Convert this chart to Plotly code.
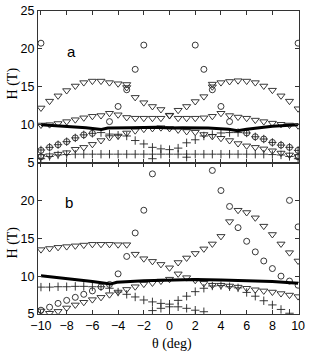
import plotly.graph_objects as go

# ---------------- data ----------------
theta = [-10, -9.33, -8.67, -8, -7.33, -6.67, -6, -5.33, -4.67, -4, -3.33,
         -2.67, -2, -1.33, -0.67, 0, 0.67, 1.33, 2, 2.67, 3.33,
         4, 4.67, 5.33, 6, 6.67, 7.33, 8, 8.67, 9.33, 10]
N = None

# panel a
a_tri_upper = [12.2, 13.1, 13.8, 14.5, 15.1, 15.55, 15.75, 15.75, 15.55, 15.4, 15.3,
               13.6, 12.9, 12.4, 12.0, 11.25, 11.9, 12.4, 13.05, 13.7, 15.35,
               15.55, 15.7, 15.8, 15.75, 15.55, 15.1, 14.55, 13.8, 13.1, 12.1]
a_tri_extra = [N, N, N, N, N, N, N, N, N, N, 14.9,
               N, N, N, N, N, N, N, N, N, 15.0,
               N, N, N, N, N, N, N, N, N, N]
a_tri_mid = [9.95, 10.0, 10.15, 10.4, 10.65, 10.9, 11.1, 11.2, 11.5, 11.3, 10.95,
             10.85, 10.85, 10.85, 10.85, 11.2, 10.85, 10.85, 10.85, 10.9, 11.1,
             11.5, 11.2, 11.0, 10.85, 10.6, 10.4, 10.2, 10.05, 9.95, 9.85]
a_tri_low = [5.8, 5.9, 6.1, 6.3, 6.75, 7.0, 7.4, 7.9, 8.3, 8.5, 8.9,
             9.2, 9.4, 9.5, 9.6, 9.5, 9.3, 9.1, 9.0, 8.7, 8.45,
             8.2, 7.9, 7.5, 7.2, 7.0, 6.8, 6.55, 6.25, 6.0, 5.8]
a_circ_hi = [20.75, N, N, N, N, N, N, N, 10.4, 12.4, 14.6,
             17.3, 20.5, N, N, N, N, N, 20.5, 17.3, 14.6,
             12.4, 10.4, N, N, N, N, N, N, N, 20.75]
a_circ_lo = [6.6, 7.0, 7.35, 7.75, 8.25, 8.65, 8.85, N, N, N, N,
             N, N, N, N, N, N, N, N, N, N,
             N, N, N, 8.9, 8.4, 8.1, 7.65, 7.3, 7.0, 6.6]
a_circ_edge = [5.75, N, N, N, N, N, N, N, N, N, N,
               N, N, N, N, N, N, N, N, N, N,
               N, N, N, N, N, N, N, N, N, 5.75]
a_plus_row = [5.5, 5.8, 6.0, 6.05, 6.1, 6.1, 6.1, 6.1, 6.1, 6.1, 6.1,
              6.1, 6.1, 6.1, 6.1, 6.1, 6.1, 6.1, 6.1, 6.1, 6.1,
              6.1, 6.1, 6.1, 6.1, 6.1, 6.1, 6.05, 6.0, 5.8, 5.5]
a_plus_upper = [6.65, 7.0, 7.35, 7.75, 8.25, 8.65, 8.85, 8.95, 8.75, 8.6, 8.5,
                7.9, 7.45, 7.0, 6.8, 6.7, 6.9, 7.6, 8.0, 8.5, 8.7,
                8.9, 8.95, 8.95, 8.9, 8.4, 8.1, 7.65, 7.3, 7.0, 6.6]
a_plus_dip = [N, N, N, N, N, N, N, N, N, N, N,
              N, N, 5.5, N, N, N, 5.7, N, N, N,
              N, N, N, N, N, N, N, N, N, N]

# panel b
b_tri_upper = [13.5, 13.65, 13.8, 13.9, 14.0, 14.1, 14.2, 14.2, 14.2, 14.15, 14.15,
               12.9, 12.3, 11.95, 11.55, 11.1, 11.8, 12.4, 13.0, 13.6, 14.25,
               15.25, 17.2, 18.7, 18.4, 17.7, 16.6, 15.5, 14.25, 13.1, 12.0]
b_tri_low = [5.4, 5.1, 5.35, 5.8, 6.2, 6.55, 6.9, 7.2, 7.55, 7.9, 8.25,
             8.6, 8.95, 9.1, 9.35, 9.6, 10.3, 9.8, 9.45, 9.05, 8.8,
             8.8, 8.7, 8.55, 8.4, 8.2, 8.05, 7.9, 7.7, 7.5, 7.3]
b_circ_main = [5.5, 5.9, 6.4, 6.8, 7.2, 7.6, 8.05, 8.6, 8.9, 10.3, 12.6,
               15.7, 18.7, 23.5, N, N, N, N, N, N, 23.95,
               21.3, 19.2, 16.4, 14.6, 13.2, 12.0, 11.0, 10.0, 9.35, 8.8]
b_circ_extra = [N, N, N, N, N, N, N, N, N, N, N,
                N, N, N, N, N, N, N, N, N, N,
                N, N, N, N, N, N, N, N, 20.0, 16.5]
b_plus_upper = [8.55, 8.55, 8.6, 8.6, 8.65, 8.65, 8.6, 8.6, 8.4, 7.9, 7.6,
                7.25, 6.85, 6.6, 6.4, 6.3, 6.8, 7.35, 7.95, 8.4, 8.7,
                8.75, 8.6, 8.45, 7.85, 7.35, 6.75, 6.2, 5.6, 5.1, N]
b_plus_lower = [N, N, N, N, N, N, N, N, N, N, N,
                N, N, 5.45, 5.75, 5.95, 5.95, 5.75, 5.5, 5.3, N,
                N, N, N, N, N, N, N, N, N, N]

a_line_theta = [-10, -8, -6.5, -5.3, -4.8, -3, -1, 0, 1, 3, 4.6, 5.3, 6, 8, 10]
a_line = [10.0, 9.8, 9.6, 9.35, 9.55, 9.6, 9.65, 9.55, 9.6, 9.55, 9.4, 9.2, 9.4, 9.8, 10.0]
b_line_theta = [-10, -8, -6, -4.6, -4.1, -2, 0, 2, 4, 6, 8, 10]
b_line = [10.05, 9.7, 9.3, 8.95, 9.2, 9.4, 9.5, 9.55, 9.5, 9.4, 9.3, 9.05]

x_ticks = [-10, -8, -6, -4, -2, 0, 2, 4, 6, 8, 10]
a_y_ticks = [5, 10, 15, 20, 25]
b_y_ticks = [5, 10, 15, 20]

# ---------------- figure ----------------
MC = "#222222"
fig = go.Figure()


def markers(y, symbol, size, xa, ya):
    fig.add_trace(go.Scatter(
        x=theta, y=y, mode="markers", xaxis=xa, yaxis=ya,
        marker=dict(symbol=symbol, size=size, color=MC,
                    line=dict(color=MC, width=0.9)),
        showlegend=False, hoverinfo="skip"))


tri, circ, plus = "triangle-down-open", "circle-open", "cross-thin-open"

for ys in [a_tri_upper, a_tri_extra, a_tri_mid, a_tri_low]:
    markers(ys, tri, 7, "x", "y")
for ys in [a_circ_hi, a_circ_lo, a_circ_edge]:
    markers(ys, circ, 6, "x", "y")
for ys in [a_plus_row, a_plus_upper, a_plus_dip]:
    markers(ys, plus, 6, "x", "y")
fig.add_trace(go.Scatter(x=a_line_theta, y=a_line, mode="lines", xaxis="x", yaxis="y",
                         line=dict(color="black", width=3), showlegend=False))

for ys in [b_tri_upper, b_tri_low]:
    markers(ys, tri, 7, "x2", "y2")
for ys in [b_circ_main, b_circ_extra]:
    markers(ys, circ, 6, "x2", "y2")
for ys in [b_plus_upper, b_plus_lower]:
    markers(ys, plus, 6, "x2", "y2")
fig.add_trace(go.Scatter(x=b_line_theta, y=b_line, mode="lines", xaxis="x2", yaxis="y2",
                         line=dict(color="black", width=3), showlegend=False))

tickfont = dict(family="Liberation Sans, Arial, sans-serif", size=12.5, color="black")
axcommon = dict(showline=True, linecolor="#333333", linewidth=1, mirror="ticks",
                ticks="inside", ticklen=4, tickcolor="#333333", showgrid=False,
                zeroline=False, tickfont=tickfont, ticklabeloverflow="allow")
xr = [-10.23, 10.07]

fig.update_layout(
    width=309, height=354,
    margin=dict(l=38, r=4, t=8, b=40),
    paper_bgcolor="white", plot_bgcolor="white",
    xaxis=dict(domain=[0, 1], range=xr, anchor="y", tickvals=x_ticks,
               showticklabels=False, **axcommon),
    yaxis=dict(domain=[0.5, 1], range=[5, 25], anchor="x", tickvals=a_y_ticks,
               **axcommon),
    xaxis2=dict(domain=[0, 1], range=xr, anchor="y2", tickvals=x_ticks,
                ticktext=[str(v).replace("-", "\u2212") for v in x_ticks], **axcommon),
    yaxis2=dict(domain=[0, 0.5], range=[5, 25], anchor="x2", tickvals=b_y_ticks,
                **axcommon),
    annotations=[
        dict(text="H (T)", xref="paper", yref="paper", x=-0.097, y=0.76,
             textangle=-90, showarrow=False, xanchor="center", yanchor="middle",
             font=dict(family="Liberation Serif, Times New Roman, serif", size=14, color="black")),
        dict(text="H (T)", xref="paper", yref="paper", x=-0.097, y=0.235,
             textangle=-90, showarrow=False, xanchor="center", yanchor="middle",
             font=dict(family="Liberation Serif, Times New Roman, serif", size=14, color="black")),
        dict(text="θ (deg)", xref="paper", yref="paper", x=0.513, y=-0.098,
             showarrow=False, xanchor="center", yanchor="middle",
             font=dict(family="Liberation Serif, Times New Roman, serif", size=14, color="black")),
        dict(text="a", xref="x", yref="y", x=-7.6, y=19.6, showarrow=False,
             font=dict(family="Liberation Sans, Arial, sans-serif", size=15, color="black")),
        dict(text="b", xref="x2", yref="y2", x=-7.8, y=19.7, showarrow=False,
             font=dict(family="Liberation Sans, Arial, sans-serif", size=15, color="black")),
    ],
)

fig.write_html("out.html", config={"displayModeBar": False},
               post_script="document.body.style.margin='0';document.body.style.overflow='hidden';")
